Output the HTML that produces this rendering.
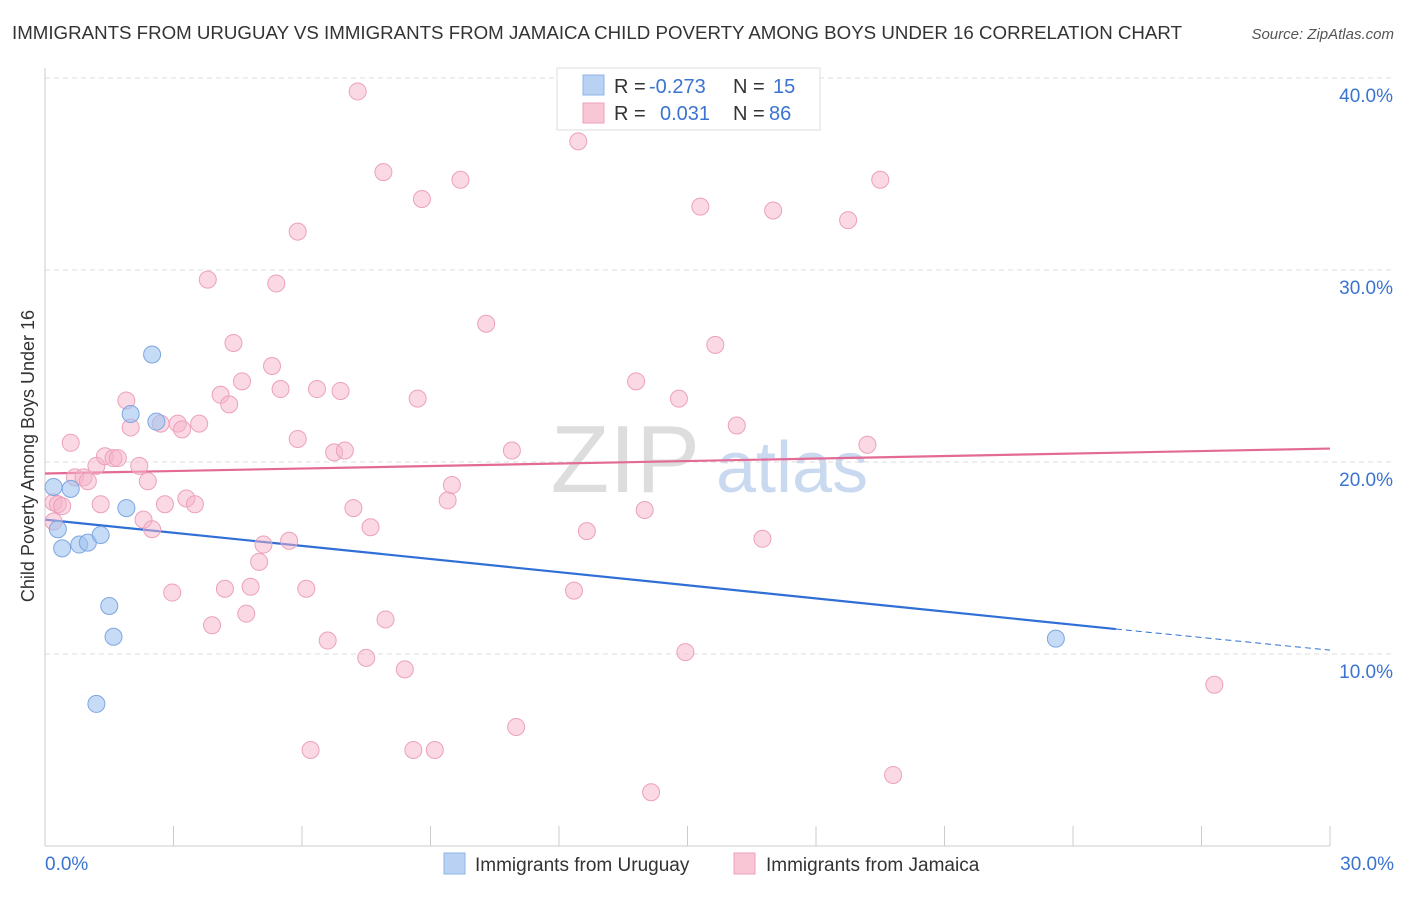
<!DOCTYPE html>
<html><head><meta charset="utf-8"><style>
body{margin:0;background:#fff;font-family:"Liberation Sans",sans-serif;}
svg text{font-family:"Liberation Sans",sans-serif;}
</style></head><body>
<svg id="chart" width="1406" height="892">
<text x="12" y="39" font-size="18" fill="#333" textLength="1170" lengthAdjust="spacingAndGlyphs">IMMIGRANTS FROM URUGUAY VS IMMIGRANTS FROM JAMAICA CHILD POVERTY AMONG BOYS UNDER 16 CORRELATION CHART</text>
<text x="1394" y="39" font-size="15" fill="#555" text-anchor="end" font-style="italic">Source: ZipAtlas.com</text>
<text x="700" y="492" font-size="96" fill="#ddd" text-anchor="end" font-family="Liberation Serif">ZIP</text>
<text x="716" y="492" font-size="72" fill="#c9d9ef">atlas</text>
<g id="grid"></g><g id="axes"></g><g id="lines"></g><g id="pts"></g>
<text x="34" y="456" font-size="18" fill="#333" text-anchor="middle" transform="rotate(-90 34 456)">Child Poverty Among Boys Under 16</text>
<g>
<rect x="557" y="68" width="263" height="62" fill="#fff" stroke="#ddd"/>
<rect x="583" y="75" width="21" height="20" fill="#b9d2f3" stroke="#8fb4e6"/>
<rect x="583" y="103" width="21" height="20" fill="#f9c6d5" stroke="#eea3bb"/>
<text x="614" y="93" font-size="20" fill="#333">R =</text><text x="649" y="93" font-size="20" fill="#3a74d0">-0.273</text>
<text x="733" y="93" font-size="20" fill="#333">N =</text><text x="773" y="93" font-size="20" fill="#3a74d0">15</text>
<text x="614" y="120" font-size="20" fill="#333">R =</text><text x="660" y="120" font-size="20" fill="#3a74d0">0.031</text>
<text x="733" y="120" font-size="20" fill="#333">N =</text><text x="769" y="120" font-size="20" fill="#3a74d0">86</text>
</g>
<g><rect x="444" y="853" width="21" height="21" fill="#b9d2f3" stroke="#8fb4e6"/><text x="475" y="871" font-size="19" fill="#333">Immigrants from Uruguay</text></g>
<g><rect x="734" y="853" width="21" height="21" fill="#f9c6d5" stroke="#eea3bb"/><text x="766" y="871" font-size="19" fill="#333">Immigrants from Jamaica</text></g>
</svg>
<script>
const yTicks=[10,20,30,40];
const xTickLabels=["0.0%","30.0%"];
const blueX=[0.2,0.3,0.4,0.6,0.8,1.0,1.3,1.5,1.6,1.2,1.9,2.0,2.5,2.6,23.6];
const blueY=[18.7,16.5,15.5,18.6,15.7,15.8,16.2,12.5,10.9,7.4,17.6,22.5,25.6,22.1,10.8];
const pinkX=[0.2,0.2,0.3,0.4,0.6,0.7,0.9,1.0,1.2,1.3,1.4,1.6,1.7,1.9,2.0,2.2,2.3,2.4,2.5,2.7,2.8,2.97,3.1,3.2,3.3,3.5,3.6,3.8,3.9,4.1,4.2,4.3,4.4,4.6,4.7,4.8,5.0,5.1,5.3,5.4,5.5,5.7,5.9,5.9,6.1,6.2,6.35,6.6,6.75,6.9,7.0,7.2,7.3,7.5,7.6,7.9,7.95,8.4,8.6,8.7,8.8,9.1,9.4,9.5,9.7,10.3,10.9,11.0,12.35,12.45,12.65,13.8,14.0,14.15,14.8,14.95,15.3,15.65,16.15,16.75,17.0,18.75,19.2,19.5,19.8,27.3];
const pinkY=[17.9,16.9,17.8,17.7,21.0,19.2,19.2,19.0,19.8,17.8,20.3,20.2,20.2,23.2,21.8,19.8,17.0,19.0,16.5,22.0,17.8,13.2,22.0,21.7,18.1,17.8,22.0,29.5,11.5,23.5,13.4,23.0,26.2,24.2,12.1,13.5,14.8,15.7,25.0,29.3,23.8,15.9,32.0,21.2,13.4,5.0,23.8,10.7,20.5,23.7,20.6,17.6,39.3,9.8,16.6,35.1,11.8,9.2,5.0,23.3,33.7,5.0,18.0,18.8,34.7,27.2,20.6,6.2,13.3,36.7,16.4,24.2,17.5,2.8,23.3,10.1,33.3,26.1,21.9,16.0,33.1,32.6,20.9,34.7,3.7,8.4];
const blueLine=[17.0,11.3,10.2], pinkLine=[19.4,20.7];
const X=v=>45+v*42.833, Y=v=>846-v*19.2;
const NS="http://www.w3.org/2000/svg";
function mk(p,t,a){const e=document.createElementNS(NS,t);for(const k in a)e.setAttribute(k,a[k]);document.getElementById(p).appendChild(e);return e;}
yTicks.forEach(t=>{
 const g=mk('grid','line',{x1:45,x2:1394,y1:Y(t),y2:Y(t),stroke:'#ddd','stroke-dasharray':'5,4'});
 
 
 const l=mk('axes','text',{x:1393,y:Y(t)+24,'font-size':19,fill:'#3a74d0','text-anchor':'end'});l.textContent=t.toFixed(1)+'%';
 
 
});
mk('axes','line',{x1:45,x2:45,y1:68,y2:846,stroke:'#ccc'});
mk('axes','line',{x1:45,x2:1330,y1:846,y2:846,stroke:'#ccc'});
for(let i=0;i<=10;i++){const t=mk('axes','line',{x1:X(i*3),x2:X(i*3),y1:826,y2:846,stroke:'#ccc'});
 
 }
[[0,45,'start'],[30,1394,'end']].forEach((d,i)=>{const l=mk('axes','text',{x:d[1],y:870,'font-size':19,fill:'#3a74d0','text-anchor':d[2]});l.textContent=xTickLabels[i];
 
 });
const bl=mk('lines','line',{x1:X(0),y1:Y(blueLine[0]),x2:X(25),y2:Y(blueLine[1]),stroke:'#2f6fd6','stroke-width':2.2});


const bd=mk('lines','line',{x1:X(25),y1:Y(blueLine[1]),x2:X(30),y2:Y(blueLine[2]),stroke:'#2f6fd6','stroke-width':1,'stroke-dasharray':'6,4'});


const pl=mk('lines','line',{x1:X(0),y1:Y(pinkLine[0]),x2:X(30),y2:Y(pinkLine[1]),stroke:'#e46a96','stroke-width':2.2});


pinkX.forEach((x,i)=>{const c=mk('pts','circle',{cx:X(x),cy:Y(pinkY[i]),r:8.5,fill:'rgba(246,180,201,0.5)',stroke:'#eca1ba','stroke-width':1});
 
 });
blueX.forEach((x,i)=>{const c=mk('pts','circle',{cx:X(x),cy:Y(blueY[i]),r:8.5,fill:'rgba(160,195,240,0.6)',stroke:'#7ea6e0','stroke-width':1});
 
 });
</script>
</body></html>
